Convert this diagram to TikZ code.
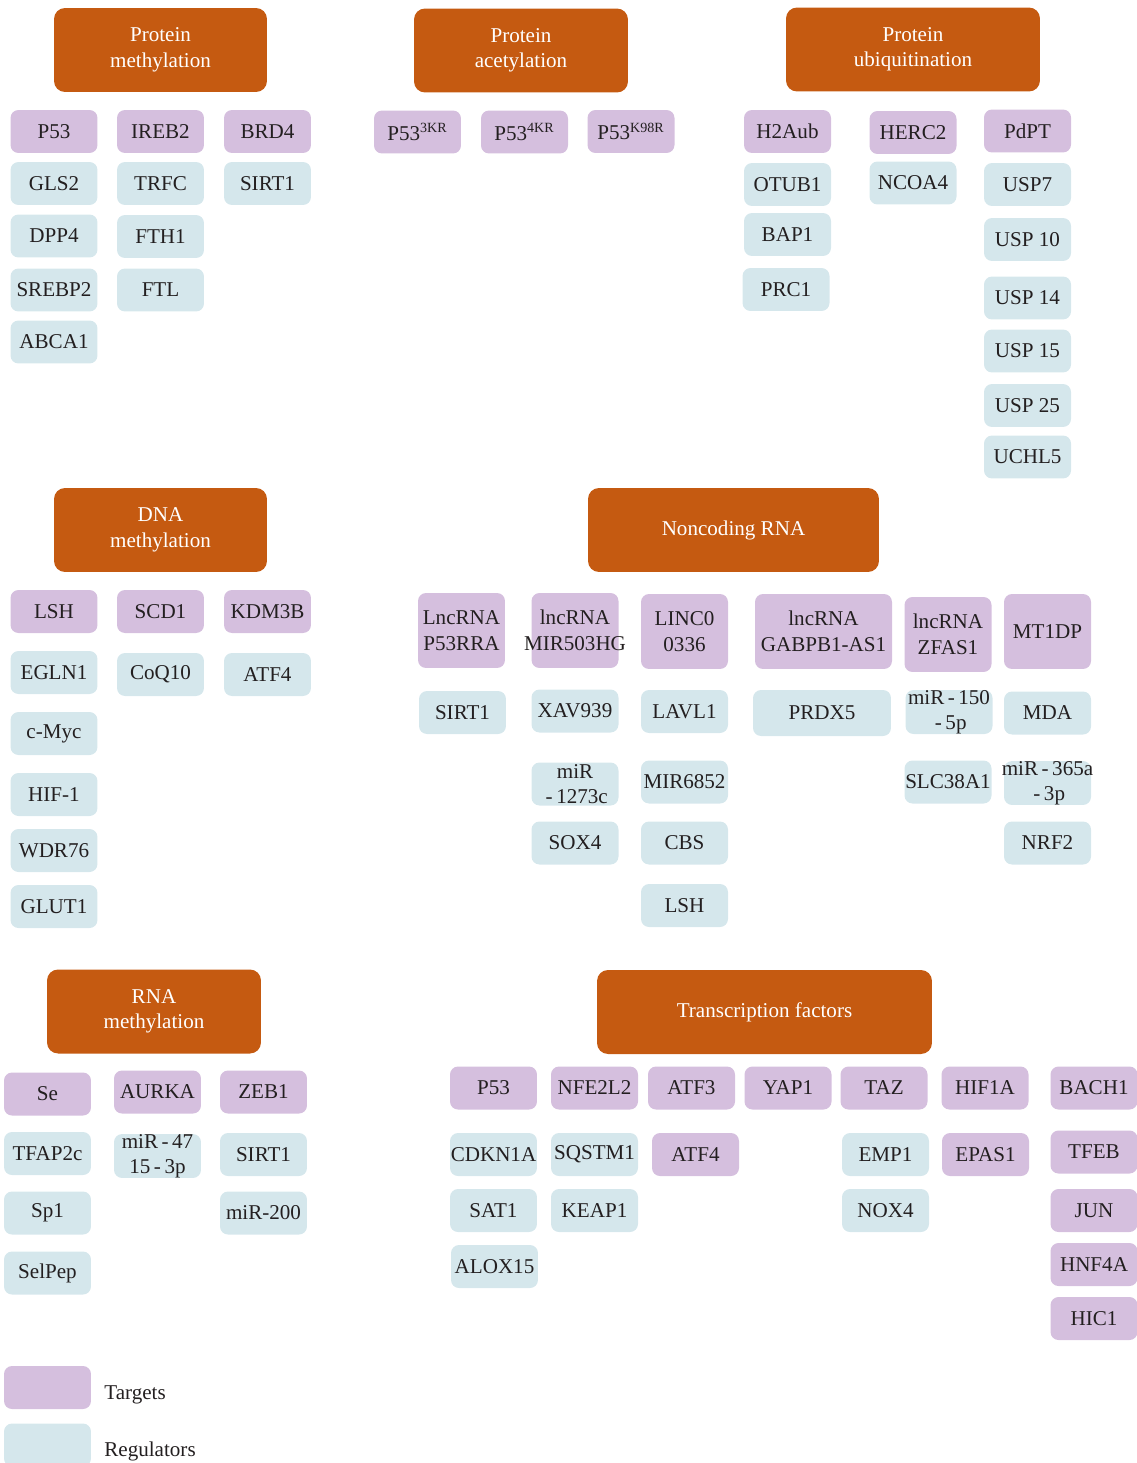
\documentclass[tikz,border=0pt]{standalone}
\usepackage{fontspec}
\setmainfont{Liberation Serif}
\usepackage{xcolor}
\usetikzlibrary{positioning}

\definecolor{headorange}{RGB}{197,90,17}
\definecolor{tgtpurple}{RGB}{213,191,222}
\definecolor{regblue}{RGB}{213,231,236}
\definecolor{ink}{RGB}{35,31,32}

% text that may stick out of its box
\newcommand{\overbox}[1]{\makebox[0pt]{#1}}

\tikzset{
  head/.style={rectangle,rounded corners=0.22cm,fill=headorange,text=white,
    minimum width=4.26cm,minimum height=1.68cm,inner sep=0pt,align=center,
    font=\fontsize{12}{14.5}\selectfont},
  box/.style={rectangle,rounded corners=0.16cm,minimum width=1.74cm,
    minimum height=0.86cm,inner sep=0pt,align=center,text=ink,
    font=\fontsize{12}{14.5}\selectfont},
  target/.style={box,fill=tgtpurple},
  reg/.style={box,fill=regblue},
  tall/.style={minimum height=1.5cm},
}

\begin{document}
\begin{tikzpicture}[x=0.02cm,y=-0.02cm]
   \useasboundingbox (0,0) rectangle (1136,1463);

   % protein methylation
   \node[head] (pm) at (160.5,50) {Protein\\methylation};
   \node[target] (pm-p53) at (54,131.5) {P53};
   \node[reg] (pm-gls2) at (54,183.5) {GLS2};
   \node[reg] (pm-dpp4) at (54,236) {DPP4};
   \node[reg] (pm-srebp2) at (54,290) {\overbox{SREBP2}};
   \node[reg] (pm-abca1) at (54,342) {ABCA1};
   \node[target] (pm-ireb2) at (160.5,131.5) {IREB2};
   \node[reg] (pm-trfc) at (160.5,183.5) {TRFC};
   \node[reg] (pm-fth1) at (160.5,236.5) {FTH1};
   \node[reg] (pm-ftl) at (160.5,290) {FTL};
   \node[target] (pm-brd4) at (267.5,131.5) {BRD4};
   \node[reg] (pm-sirt1) at (267.5,183.5) {SIRT1};

   % protein acetylation
   \node[head,minimum width=4.28cm] (pa) at (521,50.5) {Protein\\acetylation};
   \node[target] (pa-3kr) at (417.5,132) {P53\textsuperscript{3KR}};
   \node[target] (pa-4kr) at (524.5,132) {P53\textsuperscript{4KR}};
   \node[target] (pa-k98r) at (631,131.5) {P53\textsuperscript{K98R}};

   % protein ubiquitination
   \node[head,minimum width=5.08cm] (pu) at (913,49.5) {Protein\\ubiquitination};
   \node[target] (pu-h2aub) at (787.5,131.5) {H2Aub};
   \node[reg] (pu-otub1) at (787.5,184.5) {OTUB1};
   \node[reg] (pu-bap1) at (787.5,234.5) {BAP1};
   \node[reg] (pu-prc1) at (786,289.5) {PRC1};
   \node[target] (pu-herc2) at (913,132.5) {HERC2};
   \node[reg] (pu-ncoa4) at (913,183) {NCOA4};
   \node[target] (pu-pdpt) at (1027.5,131) {PdPT};
   \node[reg] (pu-usp7) at (1027.5,184.5) {USP7};
   \node[reg] (pu-usp10) at (1027.5,239.5) {USP 10};
   \node[reg] (pu-usp14) at (1027.5,298) {USP 14};
   \node[reg] (pu-usp15) at (1027.5,351) {USP 15};
   \node[reg] (pu-usp25) at (1027.5,405.5) {USP 25};
   \node[reg] (pu-uchl5) at (1027.5,457) {UCHL5};

   % DNA methylation
   \node[head] (dm) at (160.5,530) {DNA\\methylation};
   \node[target] (dm-lsh) at (54,611.5) {LSH};
   \node[reg] (dm-egln1) at (54,672.5) {EGLN1};
   \node[reg] (dm-cmyc) at (54,733.5) {c-Myc};
   \node[reg] (dm-hif1) at (54,794.5) {HIF-1};
   \node[reg] (dm-wdr76) at (54,850.5) {WDR76};
   \node[reg] (dm-glut1) at (54,906.5) {GLUT1};
   \node[target] (dm-scd1) at (160.5,611.5) {SCD1};
   \node[reg] (dm-coq10) at (160.5,674.5) {CoQ10};
   \node[target] (dm-kdm3b) at (267.5,611.5) {KDM3B};
   \node[reg] (dm-atf4) at (267.5,674.5) {ATF4};

   % noncoding RNA
   \node[head,minimum width=5.82cm] (ncr) at (733.5,530) {Noncoding RNA};
   \node[target,tall] (ncr-p53rra) at (461.5,630.5) {LncRNA\\P53RRA};
   \node[target,tall] (ncr-mir503hg) at (575,630.5) {lncRNA\\\overbox{MIR503HG}};
   \node[target,tall] (ncr-linc) at (684.5,631.5) {LINC0\\0336};
   \node[target,tall,minimum width=2.74cm] (ncr-gabpb1) at (823.5,631.5) {lncRNA\\GABPB1-AS1};
   \node[target,tall] (ncr-zfas1) at (948,634.5) {lncRNA\\ZFAS1};
   \node[target,tall] (ncr-mt1dp) at (1047.5,631.5) {MT1DP};
   \node[reg] (ncr-sirt1) at (462.5,712.5) {SIRT1};
   \node[reg] (ncr-xav939) at (575,711) {XAV939};
   \node[reg] (ncr-mir1273c) at (575,784) {miR\\\,-\,1273c};
   \node[reg] (ncr-sox4) at (575,843) {SOX4};
   \node[reg] (ncr-lavl1) at (684.5,711.5) {LAVL1};
   \node[reg] (ncr-mir6852) at (684.5,782) {\overbox{MIR6852}};
   \node[reg] (ncr-cbs) at (684.5,843) {CBS};
   \node[reg] (ncr-lsh) at (684.5,905.5) {LSH};
   \node[reg,minimum width=2.76cm,minimum height=0.92cm] (ncr-prdx5) at (822,713) {PRDX5};
   \node[reg] (ncr-mir150) at (949,712) {\overbox{miR\,-\,150}\\\,-\,5p};
   \node[reg] (ncr-slc38a1) at (948,782) {\overbox{SLC38A1}};
   \node[reg] (ncr-mda) at (1047.5,713) {MDA};
   \node[reg] (ncr-mir365a) at (1047.5,783) {\overbox{miR\,-\,365a}\\\,-\,3p};
   \node[reg] (ncr-nrf2) at (1047.5,843) {NRF2};

   % RNA methylation
   \node[head,minimum width=4.28cm] (rm) at (154,1011.5) {RNA\\methylation};
   \node[target] (rm-se) at (47.5,1094) {Se};
   \node[reg] (rm-tfap2c) at (47.5,1153.5) {TFAP2c};
   \node[reg] (rm-sp1) at (47.5,1213) {Sp1};
   \node[reg] (rm-selpep) at (47.5,1273) {SelPep};
   \node[target] (rm-aurka) at (157.5,1092) {AURKA};
   \node[reg] (rm-mir4715) at (157.5,1156) {miR\,-\,47\\15\,-\,3p};
   \node[target] (rm-zeb1) at (263.5,1092) {ZEB1};
   \node[reg] (rm-sirt1) at (263.5,1154.5) {SIRT1};
   \node[reg] (rm-mir200) at (263.5,1213) {miR-200};

   % transcription factors
   \node[head,minimum width=6.7cm] (tf) at (764.5,1012) {Transcription factors};
   \node[target] (tf-p53) at (493.5,1088) {P53};
   \node[target] (tf-nfe2l2) at (594.5,1088) {NFE2L2};
   \node[target] (tf-atf3) at (691.5,1088) {ATF3};
   \node[target] (tf-yap1) at (788,1088) {YAP1};
   \node[target] (tf-taz) at (884,1088) {TAZ};
   \node[target] (tf-hif1a) at (985,1088) {HIF1A};
   \node[target] (tf-bach1) at (1094,1088) {BACH1};
   \node[reg] (tf-cdkn1a) at (493.5,1154.5) {\overbox{CDKN1A}};
   \node[reg] (tf-sqstm1) at (594.5,1154.5) {\overbox{SQSTM1}};
   \node[target] (tf-atf4) at (695.5,1154.5) {ATF4};
   \node[reg] (tf-emp1) at (885.5,1154.5) {EMP1};
   \node[target] (tf-epas1) at (985.5,1154.5) {EPAS1};
   \node[target] (tf-tfeb) at (1094,1152) {TFEB};
   \node[reg] (tf-sat1) at (493.5,1210.5) {SAT1};
   \node[reg] (tf-keap1) at (594.5,1210.5) {KEAP1};
   \node[reg] (tf-nox4) at (885.5,1210.5) {NOX4};
   \node[target] (tf-jun) at (1094,1210.5) {JUN};
   \node[reg] (tf-alox15) at (494.5,1266.5) {ALOX15};
   \node[target] (tf-hnf4a) at (1094,1264.5) {HNF4A};
   \node[target] (tf-hic1) at (1094,1318.5) {HIC1};

   % legend
   \node[target] (key-tgt) at (47.5,1387.5) {};
   \node[reg] (key-reg) at (47.5,1445) {};
   \node[anchor=base west,text=ink,font=\fontsize{12}{14.5}\selectfont,inner sep=0pt] (key-tgt-txt) at (104,1399) {Targets};
   \node[anchor=base west,text=ink,font=\fontsize{12}{14.5}\selectfont,inner sep=0pt] (key-reg-txt) at (104,1456) {Regulators};
\end{tikzpicture}
\end{document}
